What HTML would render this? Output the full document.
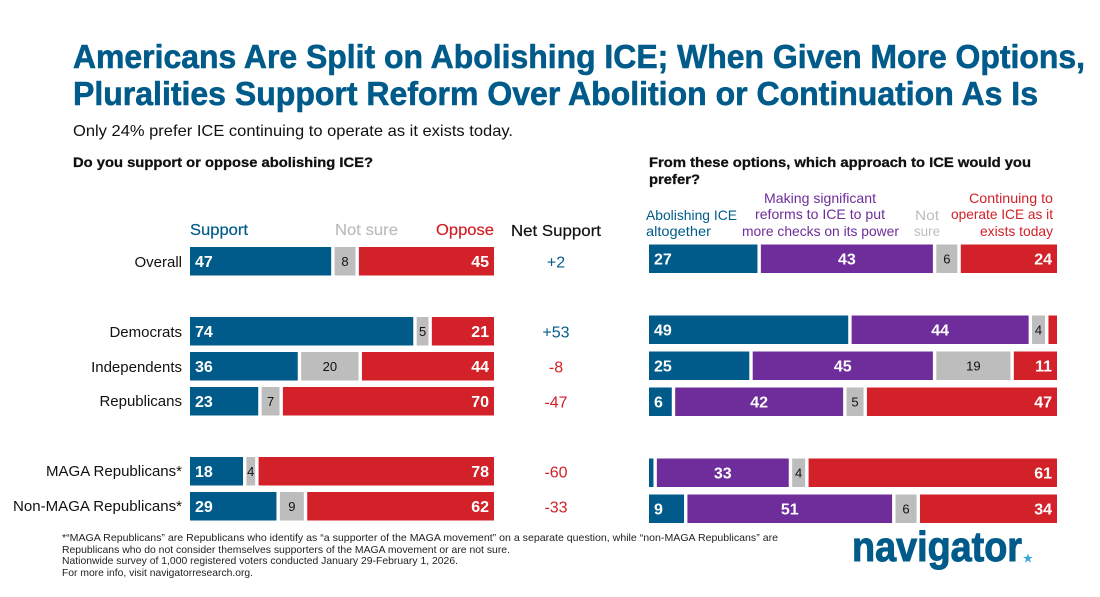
<!DOCTYPE html>
<html lang="en">
<head>
<meta charset="utf-8">
<title>Americans Are Split on Abolishing ICE</title>
<style>
html,body{margin:0;padding:0;background:#fff;width:1100px;height:597px;overflow:hidden}
svg{display:block}
text{font-family:"Liberation Sans",sans-serif}
</style>
</head>
<body>
<svg id="chart" width="1100" height="597" viewBox="0 0 1100 597" xmlns="http://www.w3.org/2000/svg">
<rect width="1100" height="597" fill="#fff"/>
<text x="73" y="68" font-size="33" font-weight="700" fill="#005b8a" stroke="#005b8a" stroke-width="0.6" textLength="1012" lengthAdjust="spacingAndGlyphs">Americans Are Split on Abolishing ICE; When Given More Options,</text>
<text x="73" y="105" font-size="33" font-weight="700" fill="#005b8a" stroke="#005b8a" stroke-width="0.6" textLength="965" lengthAdjust="spacingAndGlyphs">Pluralities Support Reform Over Abolition or Continuation As Is</text>
<text x="73" y="136" font-size="16" fill="#111" textLength="440" lengthAdjust="spacingAndGlyphs">Only 24% prefer ICE continuing to operate as it exists today.</text>
<text x="73" y="167" font-size="14" font-weight="700" fill="#111" stroke="#111" stroke-width="0.3" textLength="300" lengthAdjust="spacingAndGlyphs">Do you support or oppose abolishing ICE?</text>
<text x="649" y="167" font-size="14" font-weight="700" fill="#111" stroke="#111" stroke-width="0.3" textLength="382" lengthAdjust="spacingAndGlyphs">From these options, which approach to ICE would you</text>
<text x="649" y="184" font-size="14" font-weight="700" fill="#111" stroke="#111" stroke-width="0.3" textLength="51" lengthAdjust="spacingAndGlyphs">prefer?</text>

<text x="190" y="235" font-size="16" fill="#005b8a" stroke="#005b8a" stroke-width="0.2" textLength="58" lengthAdjust="spacingAndGlyphs">Support</text>
<text x="335" y="235" font-size="16" fill="#bdbdbd" stroke="#bdbdbd" stroke-width="0.2" textLength="63" lengthAdjust="spacingAndGlyphs">Not sure</text>
<text x="436" y="235" font-size="16" fill="#d22128" stroke="#d22128" stroke-width="0.2" textLength="58" lengthAdjust="spacingAndGlyphs">Oppose</text>
<text x="511" y="236" font-size="16" fill="#111" stroke="#111" stroke-width="0.2" textLength="90" lengthAdjust="spacingAndGlyphs">Net Support</text>

<text x="646" y="220" font-size="14" fill="#005b8a" textLength="91" lengthAdjust="spacingAndGlyphs">Abolishing ICE</text>
<text x="646" y="236" font-size="14" fill="#005b8a" textLength="65" lengthAdjust="spacingAndGlyphs">altogether</text>
<text x="764" y="203" font-size="14" fill="#6e2d9b" textLength="112" lengthAdjust="spacingAndGlyphs">Making significant</text>
<text x="755" y="219" font-size="14" fill="#6e2d9b" textLength="130" lengthAdjust="spacingAndGlyphs">reforms to ICE to put</text>
<text x="742" y="236" font-size="14" fill="#6e2d9b" textLength="157" lengthAdjust="spacingAndGlyphs">more checks on its power</text>
<text x="915" y="220" font-size="14" fill="#bdbdbd" textLength="24" lengthAdjust="spacingAndGlyphs">Not</text>
<text x="914" y="236" font-size="14" fill="#bdbdbd" textLength="26" lengthAdjust="spacingAndGlyphs">sure</text>
<text x="969" y="203" font-size="14" fill="#d22128" textLength="84" lengthAdjust="spacingAndGlyphs">Continuing to</text>
<text x="951" y="219" font-size="14" fill="#d22128" textLength="102" lengthAdjust="spacingAndGlyphs">operate ICE as it</text>
<text x="980" y="236" font-size="14" fill="#d22128" textLength="73" lengthAdjust="spacingAndGlyphs">exists today</text>

<text x="182" y="267" font-size="15" fill="#111" text-anchor="end">Overall</text>
<text x="182" y="337" font-size="15" fill="#111" text-anchor="end">Democrats</text>
<text x="182" y="372" font-size="15" fill="#111" text-anchor="end">Independents</text>
<text x="182" y="406" font-size="15" fill="#111" text-anchor="end">Republicans</text>
<text x="46" y="476" font-size="15" fill="#111" textLength="136" lengthAdjust="spacingAndGlyphs">MAGA Republicans*</text>
<text x="13" y="511" font-size="15" fill="#111" textLength="169" lengthAdjust="spacingAndGlyphs">Non-MAGA Republicans*</text>

<g id="left-bars"></g>
<g id="right-bars"></g>
<g id="net-values"></g>

<text x="62" y="541" font-size="10.5" fill="#222" textLength="716" lengthAdjust="spacingAndGlyphs">*“MAGA Republicans” are Republicans who identify as “a supporter of the MAGA movement” on a separate question, while “non-MAGA Republicans” are</text>
<text x="62" y="553" font-size="10.5" fill="#222" textLength="448" lengthAdjust="spacingAndGlyphs">Republicans who do not consider themselves supporters of the MAGA movement or are not sure.</text>
<text x="62" y="564" font-size="10.5" fill="#222" textLength="396" lengthAdjust="spacingAndGlyphs">Nationwide survey of 1,000 registered voters conducted January 29-February 1, 2026.</text>
<text x="62" y="576" font-size="10.5" fill="#222" textLength="191" lengthAdjust="spacingAndGlyphs">For more info, visit navigatorresearch.org.</text>

<text x="852" y="561" font-size="42" font-weight="700" fill="#005b8a" stroke="#005b8a" stroke-width="1" textLength="170" lengthAdjust="spacingAndGlyphs">navigator</text>
<text x="1023" y="562" font-size="11" font-weight="700" fill="#3aa8d8">★</text>
</svg>
<script>
// Left chart data
const leftSupport = [47, 74, 36, 23, 18, 29];
const leftNotSure = [8, 5, 20, 7, 4, 9];
const leftOppose = [45, 21, 44, 70, 78, 62];
const netSupport = [2, 53, -8, -47, -60, -33];
// Right chart data (the two unlabelled slivers are estimated from their width)
const rightAbolish = [27, 49, 25, 6, 1.5, 9];
const rightReform = [43, 44, 45, 42, 33, 51];
const rightNotSure = [6, 4, 19, 5, 4, 6];
const rightContinue = [24, 2.5, 11, 47, 61, 34];
const groups = ['overall', 'democrats', 'independents', 'republicans', 'maga-republicans', 'non-maga-republicans'];

const NS = 'http://www.w3.org/2000/svg';
const BLUE = '#005b8a', RED = '#d22128', PURPLE = '#6e2d9b', GREY = '#bdbdbd';
const GAP = 1.7, MIN_LABEL = 4;

// Row bands: index → top of bar
function leftRowTop(i) { return 247 + [0, 70, 105, 140, 210, 245][i]; }
function rightRowTop(i) { return 244.5 + [0, 71, 107, 143, 214, 250][i]; }
const BAR_H = 28.5;

function makeAxis(x0, x1) {
  return function (v) { return x0 + v * (x1 - x0) / 100; };
}
const xLeft = makeAxis(190, 494);
const xRight = makeAxis(649, 1057);

function drawStack(parent, rowIndex, top, axis, series, prefix) {
  let cum = 0;
  const total = series.reduce(function (a, s) { return a + s.values[rowIndex]; }, 0);
  series.forEach(function (s, k) {
    const v = s.values[rowIndex];
    const start = axis(cum / total * 100) + (k > 0 ? GAP : 0);
    cum += v;
    const end = axis(cum / total * 100) - (k < series.length - 1 ? GAP : 0);
    const r = document.createElementNS(NS, 'rect');
    r.setAttribute('x', start);
    r.setAttribute('y', top);
    r.setAttribute('width', Math.max(0, end - start));
    r.setAttribute('height', BAR_H);
    r.setAttribute('fill', s.color);
    
    
    parent.appendChild(r);
    if (v >= MIN_LABEL) {
      const t = document.createElementNS(NS, 'text');
      let tx = (start + end) / 2, anchor = 'middle';
      if (s.align === 'start') { tx = start + 5; anchor = 'start'; }
      if (s.align === 'end') { tx = end - 5; anchor = 'end'; }
      t.setAttribute('x', tx);
      t.setAttribute('y', top + BAR_H / 2 + (s.dark ? 4.5 : 5.5));
      t.setAttribute('text-anchor', anchor);
      t.setAttribute('font-size', s.dark ? '13' : '16');
      t.setAttribute('font-weight', s.dark ? '400' : '700');
      t.setAttribute('fill', s.dark ? '#111' : '#fff');
      
      
      t.textContent = String(v);
      parent.appendChild(t);
    }
  });
}

const leftSeries = [
  { key: 'support', values: leftSupport, color: BLUE, align: 'start' },
  { key: 'not-sure', values: leftNotSure, color: GREY, align: 'middle', dark: true },
  { key: 'oppose', values: leftOppose, color: RED, align: 'end' }
];
const rightSeries = [
  { key: 'abolish', values: rightAbolish, color: BLUE, align: 'start' },
  { key: 'reform', values: rightReform, color: PURPLE, align: 'middle' },
  { key: 'not-sure', values: rightNotSure, color: GREY, align: 'middle', dark: true },
  { key: 'continue', values: rightContinue, color: RED, align: 'end' }
];

const leftG = document.getElementById('left-bars');
const rightG = document.getElementById('right-bars');
const netG = document.getElementById('net-values');

groups.forEach(function (g, i) {
  drawStack(leftG, i, leftRowTop(i), xLeft, leftSeries, 'left');
  drawStack(rightG, i, rightRowTop(i), xRight, rightSeries, 'right');
  const n = netSupport[i];
  const t = document.createElementNS(NS, 'text');
  t.setAttribute('x', 556);
  t.setAttribute('y', leftRowTop(i) + BAR_H / 2 + 6);
  t.setAttribute('text-anchor', 'middle');
  t.setAttribute('font-size', '16');
  t.setAttribute('fill', n >= 0 ? BLUE : RED);
  
  
  t.textContent = (n >= 0 ? '+' : '') + n;
  netG.appendChild(t);
});
</script>
</body>
</html>
